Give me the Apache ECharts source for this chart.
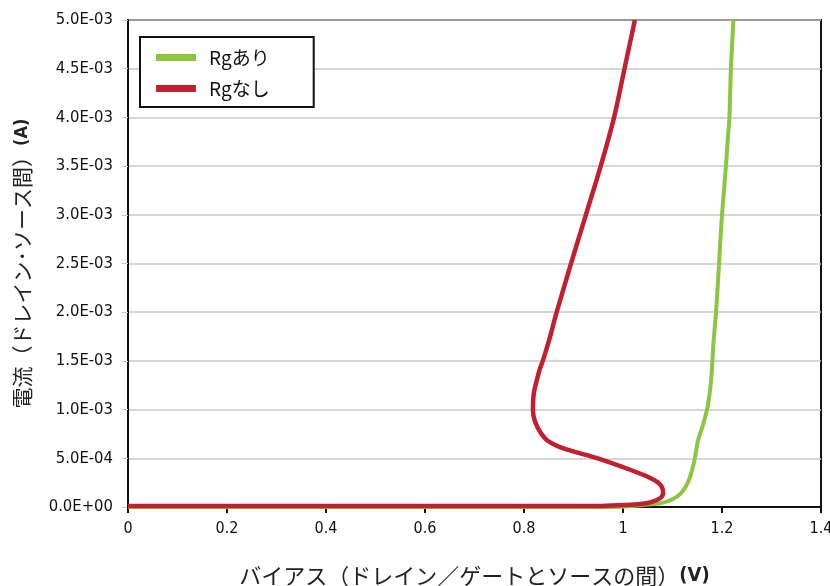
<!DOCTYPE html>
<html>
<head>
<meta charset="utf-8">
<script src="https://cdn.jsdelivr.net/npm/echarts@6/dist/echarts.min.js"></script>
<style>
  html, body { margin: 0; padding: 0; background: #fff; overflow: hidden; }
  #chart { position: absolute; left: 0; top: 0; width: 830px; height: 586px; }
</style>
</head>
<body>
<div id="chart"></div>
<script>
// Drain current vs. bias, with and without gate resistor Rg
const seriesNames = ['Rgあり', 'Rgなし'];

// [bias (V), current (A)]
const withRg = [
  [0, 0], [0.2, 0], [0.4, 0], [0.6, 0], [0.8, 0], [0.95, 0], [1.0, 0.000002],
  [1.04, 0.00002], [1.077, 0.00004], [1.10, 0.00008], [1.117, 0.00014],
  [1.13, 0.00024], [1.138, 0.00035], [1.145, 0.0005], [1.152, 0.00069],
  [1.162, 0.00085], [1.171, 0.00103], [1.178, 0.0013], [1.183, 0.0017],
  [1.188, 0.002], [1.194, 0.0025], [1.2, 0.003], [1.208, 0.0035],
  [1.212, 0.0038], [1.215, 0.004], [1.218, 0.0045], [1.223, 0.005]
];

const withoutRg = [
  [0, 0.00001], [0.2, 0.00001], [0.4, 0.00001], [0.6, 0.00001], [0.8, 0.00001],
  [0.95, 0.00001], [1.002, 0.00002], [1.035, 0.00003], [1.057, 0.00005],
  [1.075, 0.00009], [1.081, 0.00014], [1.079, 0.0002], [1.071, 0.00025],
  [1.05, 0.00031], [1.016, 0.00038], [0.949, 0.0005], [0.881, 0.0006],
  [0.848, 0.00068], [0.834, 0.00076], [0.822, 0.00088], [0.818, 0.001],
  [0.82, 0.00117], [0.831, 0.0014], [0.838, 0.0015], [0.85, 0.0017],
  [0.866, 0.002], [0.895, 0.0025], [0.925, 0.003], [0.955, 0.0035],
  [0.982, 0.004], [1.003, 0.0045], [1.024, 0.005]
];

const yTickLabels = ['0.0E+00', '5.0E-04', '1.0E-03', '1.5E-03', '2.0E-03',
  '2.5E-03', '3.0E-03', '3.5E-03', '4.0E-03', '4.5E-03', '5.0E-03'];

const xTitle = 'バイアス（ドレイン／ゲートとソースの間）';
const yTitle = '電流（ドレイン･ソース間）';

const narrow = "'DejaVu Sans Condensed', 'Liberation Sans Narrow', sans-serif";
const cjk = "'Noto Sans CJK JP', sans-serif";

const chart = echarts.init(document.getElementById('chart'), null, { renderer: 'canvas', width: 830, height: 586 });

chart.setOption({
  animation: false,
  backgroundColor: '#fff',
  grid: {
    left: 128, right: 9, top: 20, bottom: 79,
    containLabel: false,
    outerBoundsMode: 'none',
    show: true, borderColor: '#111', borderWidth: 2, backgroundColor: 'transparent'
  },
  legend: {
    left: 140, top: 37,
    orient: 'vertical',
    padding: [11, 44, 9, 16],
    itemGap: 12,
    backgroundColor: '#fff',
    borderColor: '#111',
    borderWidth: 2,
    icon: 'rect',
    itemWidth: 40,
    itemHeight: 7,
    textStyle: { fontFamily: cjk, fontSize: 19, color: '#111', padding: [0, 0, 0, 8] },
    data: seriesNames
  },
  xAxis: {
    type: 'value',
    min: 0, max: 1.4, interval: 0.2,
    name: '{t|' + xTitle + '}{b|(V)}',
    nameLocation: 'middle',
    nameGap: 58,
    nameTextStyle: {
      rich: {
        t: { fontFamily: cjk, fontSize: 22, color: '#222' },
        b: { fontFamily: narrow, fontSize: 20, fontWeight: 'bold', color: '#222' }
      }
    },
    axisLine: { show: true, lineStyle: { color: '#111', width: 2 } },
    axisTick: { show: true, length: 6, lineStyle: { color: '#111', width: 2 } },
    axisLabel: {
      fontFamily: narrow, fontSize: 16, color: '#111', margin: 14,
      formatter: v => String(Math.round(v * 10) / 10)
    },
    splitLine: { show: false }
  },
  yAxis: {
    type: 'value',
    min: 0, max: 0.005, interval: 0.0005,
    name: '{t|' + yTitle + '}{b|(A)}',
    nameLocation: 'middle',
    nameGap: 95,
    nameRotate: 90,
    nameTextStyle: {
      rich: {
        t: { fontFamily: cjk, fontSize: 21, color: '#222' },
        b: { fontFamily: narrow, fontSize: 18, fontWeight: 'bold', color: '#222' }
      }
    },
    axisLine: { show: true, lineStyle: { color: '#111', width: 2 } },
    axisTick: { show: true, length: 6, lineStyle: { color: '#c8c8c8', width: 1 } },
    axisLabel: {
      fontFamily: narrow, fontSize: 16.5, color: '#111', margin: 15,
      formatter: (v) => yTickLabels[Math.round(v / 0.0005)]
    },
    splitLine: { show: true, lineStyle: { color: '#c8c8c8', width: 1.5 } }
  },
  series: [
    {
      name: seriesNames[0],
      type: 'line',
      data: withRg,
      smooth: 0.3,
      showSymbol: false,
      lineStyle: { color: '#8cc63f', width: 4 },
      itemStyle: { color: '#8cc63f' },
      z: 2
    },
    {
      name: seriesNames[1],
      type: 'line',
      data: withoutRg,
      smooth: 0.3,
      showSymbol: false,
      lineStyle: { color: '#c21f30', width: 4.5 },
      itemStyle: { color: '#c21f30' },
      z: 3
    }
  ]
});
</script>
</body>
</html>
